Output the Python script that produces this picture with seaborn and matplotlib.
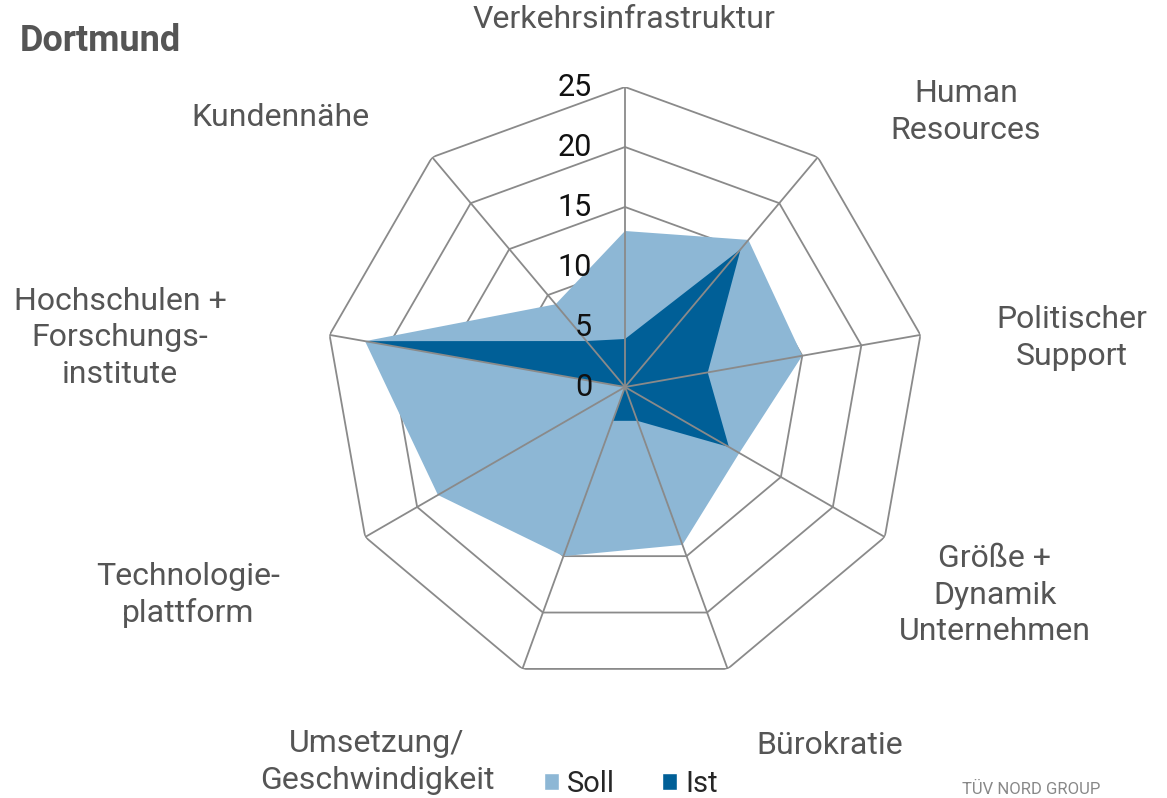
import numpy as np
import matplotlib
matplotlib.use("Agg")
import matplotlib.pyplot as plt
import seaborn as sns
from matplotlib.patches import Patch

# ---- data ----
categories = ["Verkehrsinfrastruktur", "Human\nResources", "Politischer\nSupport",
              "Größe +\nDynamik\nUnternehmen", "Bürokratie", "Umsetzung/\nGeschwindigkeit",
              "Technologie-\nplattform", "Hochschulen +\nForschungs-\ninstitute", "Kundennähe"]
soll = [13, 16, 15, 11, 14, 15, 18, 22, 9]
ist = [4, 15, 7, 10, 3, 3, 0, 22, 5]
r_ticks = [0, 5, 10, 15, 20, 25]
series_names = ["Soll", "Ist"]

# ---- style ----
sns.set_theme(style="white")
plt.rcParams['font.family'] = ['Roboto', 'DejaVu Sans']
c_soll = "#8db7d5"
c_ist = "#005f97"
c_grid = "#8a8a8a"
c_lab = "#555555"

W, H = 1167, 798
fig = plt.figure(figsize=(W / 100, H / 100), dpi=100)
cx, cy, R = 625, 387, 300
ax = fig.add_axes([(cx - R) / W, (H - cy - R) / H, 2 * R / W, 2 * R / H], projection="polar")
ax.set_theta_zero_location("N")
ax.set_theta_direction(-1)
ax.set_ylim(0, 25)
ax.set_xticks([])
ax.set_yticks([])
ax.grid(False)
ax.spines["polar"].set_visible(False)
ax.patch.set_alpha(0)

n = len(categories)
theta = np.arange(n) * 2 * np.pi / n
theta_c = np.append(theta, theta[0])

# rings
for rv in r_ticks[1:]:
    ax.plot(theta_c, [rv] * (n + 1), color=c_grid, lw=1.3, zorder=1)

# fills
ax.fill(theta_c, soll + soll[:1], color=c_soll, lw=0, zorder=2)
ax.fill(theta_c, ist + ist[:1], color=c_ist, lw=0, zorder=3)

# spokes
for t in theta:
    ax.plot([t, t], [0, r_ticks[-1]], color=c_grid, lw=1.3, zorder=4)

# radial tick labels
for rv in r_ticks:
    y = cy - rv * R / 25
    fig.text(592 / W, 1 - y / H, str(rv), ha="right", va="center", fontsize=22, color="#111111")

# category labels (pixel positions of label centres)
label_pos = [(624, 20), (966, 112), (1072, 338), (995, 595), (830, 746),
             (377, 762), (188, 595), (120, 338), (280, 117)]
for lab, (px, py) in zip(categories, label_pos):
    fig.text(px / W, 1 - py / H, lab, ha="center", va="center", fontsize=23,
             color=c_lab, linespacing=1.33)

# title
fig.text(181 / W, 1 - 41 / H, "Dortmund", ha="right", va="center",
         fontsize=26, fontweight="bold", color="#555555")

# footer
fig.text(962 / W, 1 - 797 / H, "TÜV NORD GROUP", ha="left", va="bottom",
         fontsize=12, color="#888888")

# legend
handles = [Patch(facecolor=c_soll, label=series_names[0]),
           Patch(facecolor=c_ist, label=series_names[1])]
fig.legend(handles=handles, loc="center", bbox_to_anchor=(631 / W, 1 - 784 / H),
           ncol=2, frameon=False, fontsize=21, handlelength=0.5, handleheight=0.5,
           handletextpad=0.3, columnspacing=1.6, borderpad=0)

fig.savefig("out.png", dpi=100)
